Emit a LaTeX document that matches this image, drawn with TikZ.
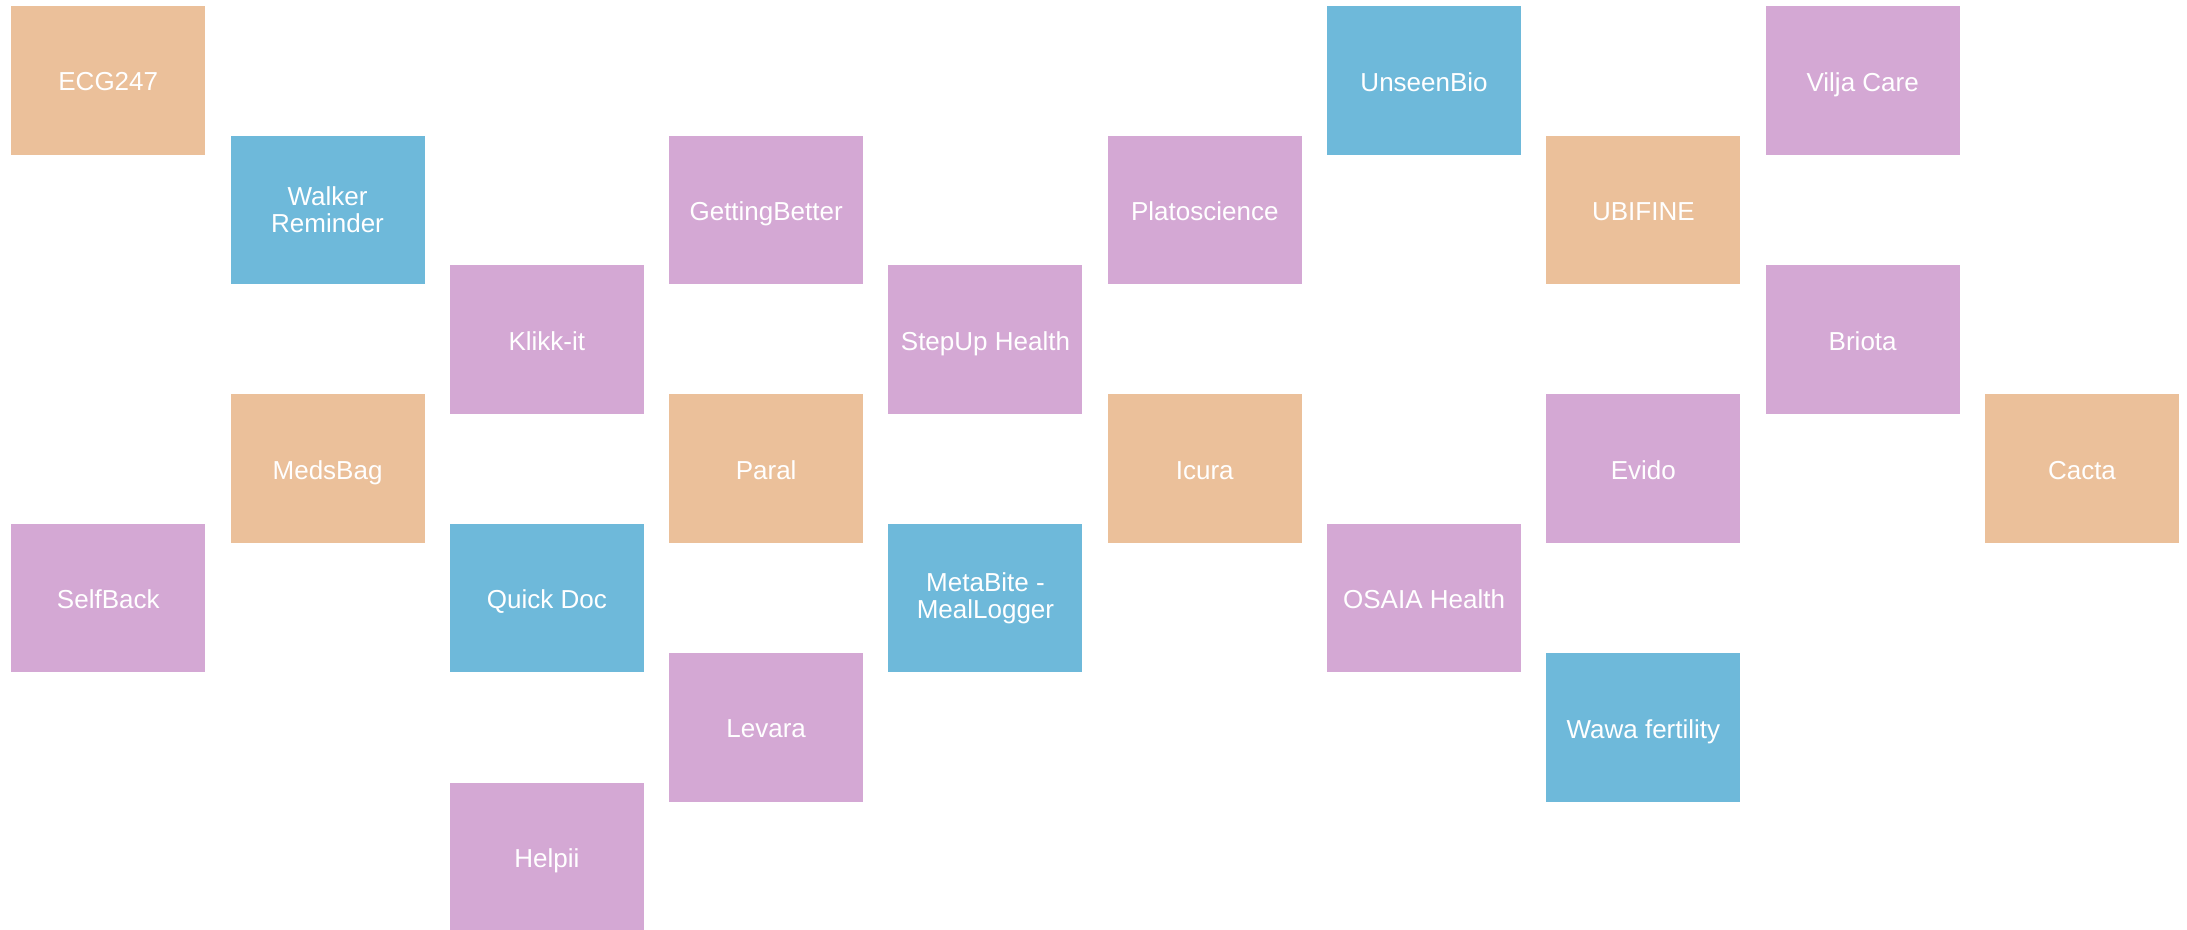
\documentclass[tikz,border=0pt]{standalone}
\usepackage{fontspec}
\setmainfont{Liberation Sans}
\definecolor{corange}{RGB}{235,192,154}
\definecolor{cblue}{RGB}{110,185,218}
\definecolor{cpurple}{RGB}{212,168,212}
\newcommand\lowlbl[1]{\raisebox{-1pt}[\height][0pt]{#1}}
\begin{document}
\begin{tikzpicture}[x=0.75pt,y=-0.75pt,
  card/.style={rectangle, anchor=north west, inner sep=0pt,
    minimum width=145.5pt, minimum height=111.4pt, text=white, align=center,
    font=\fontsize{19.5}{20.5}\selectfont},
  orangecard/.style={card, fill=corange},
  bluecard/.style={card, fill=cblue},
  purplecard/.style={card, fill=cpurple}]
\clip (0,0) rectangle (2187,929);
\fill[white] (0,0) rectangle (2187,929);
\def\cx#1{11+#1*219.3}
\def\ry#1{6+#1*129.4}
\node[orangecard] (ecg) at ({\cx0},{\ry0}) {\lowlbl{ECG247}};
\node[purplecard] (selfback) at ({\cx0},{\ry4}) {\lowlbl{SelfBack}};
\node[bluecard] (walker) at ({\cx1},{\ry1}) {Walker\\Reminder};
\node[orangecard] (medsbag) at ({\cx1},{\ry3}) {\lowlbl{MedsBag}};
\node[purplecard] (klikk) at ({\cx2},{\ry2}) {\lowlbl{Klikk-it}};
\node[bluecard] (quickdoc) at ({\cx2},{\ry4}) {\lowlbl{Quick Doc}};
\node[purplecard] (helpii) at ({\cx2},{\ry6}) {\lowlbl{Helpii}};
\node[purplecard] (getting) at ({\cx3},{\ry1}) {\lowlbl{GettingBetter}};
\node[orangecard] (paral) at ({\cx3},{\ry3}) {\lowlbl{Paral}};
\node[purplecard] (levara) at ({\cx3},{\ry5}) {\lowlbl{Levara}};
\node[purplecard] (stepup) at ({\cx4},{\ry2}) {\lowlbl{StepUp Health}};
\node[bluecard] (metabite) at ({\cx4},{\ry4}) {MetaBite -\\MealLogger};
\node[purplecard] (plato) at ({\cx5},{\ry1}) {\lowlbl{Platoscience}};
\node[orangecard] (icura) at ({\cx5},{\ry3}) {\lowlbl{Icura}};
\node[bluecard] (unseen) at ({\cx6},{\ry0}) {\lowlbl{UnseenBio}};
\node[purplecard] (osaia) at ({\cx6},{\ry4}) {\lowlbl{OSAIA Health}};
\node[orangecard] (ubifine) at ({\cx7},{\ry1}) {\lowlbl{UBIFINE}};
\node[purplecard] (evido) at ({\cx7},{\ry3}) {\lowlbl{Evido}};
\node[bluecard] (wawa) at ({\cx7},{\ry5}) {\lowlbl{Wawa fertility}};
\node[purplecard] (vilja) at ({\cx8},{\ry0}) {\lowlbl{Vilja Care}};
\node[purplecard] (briota) at ({\cx8},{\ry2}) {\lowlbl{Briota}};
\node[orangecard] (cacta) at ({\cx9},{\ry3}) {\lowlbl{Cacta}};
\end{tikzpicture}
\end{document}
